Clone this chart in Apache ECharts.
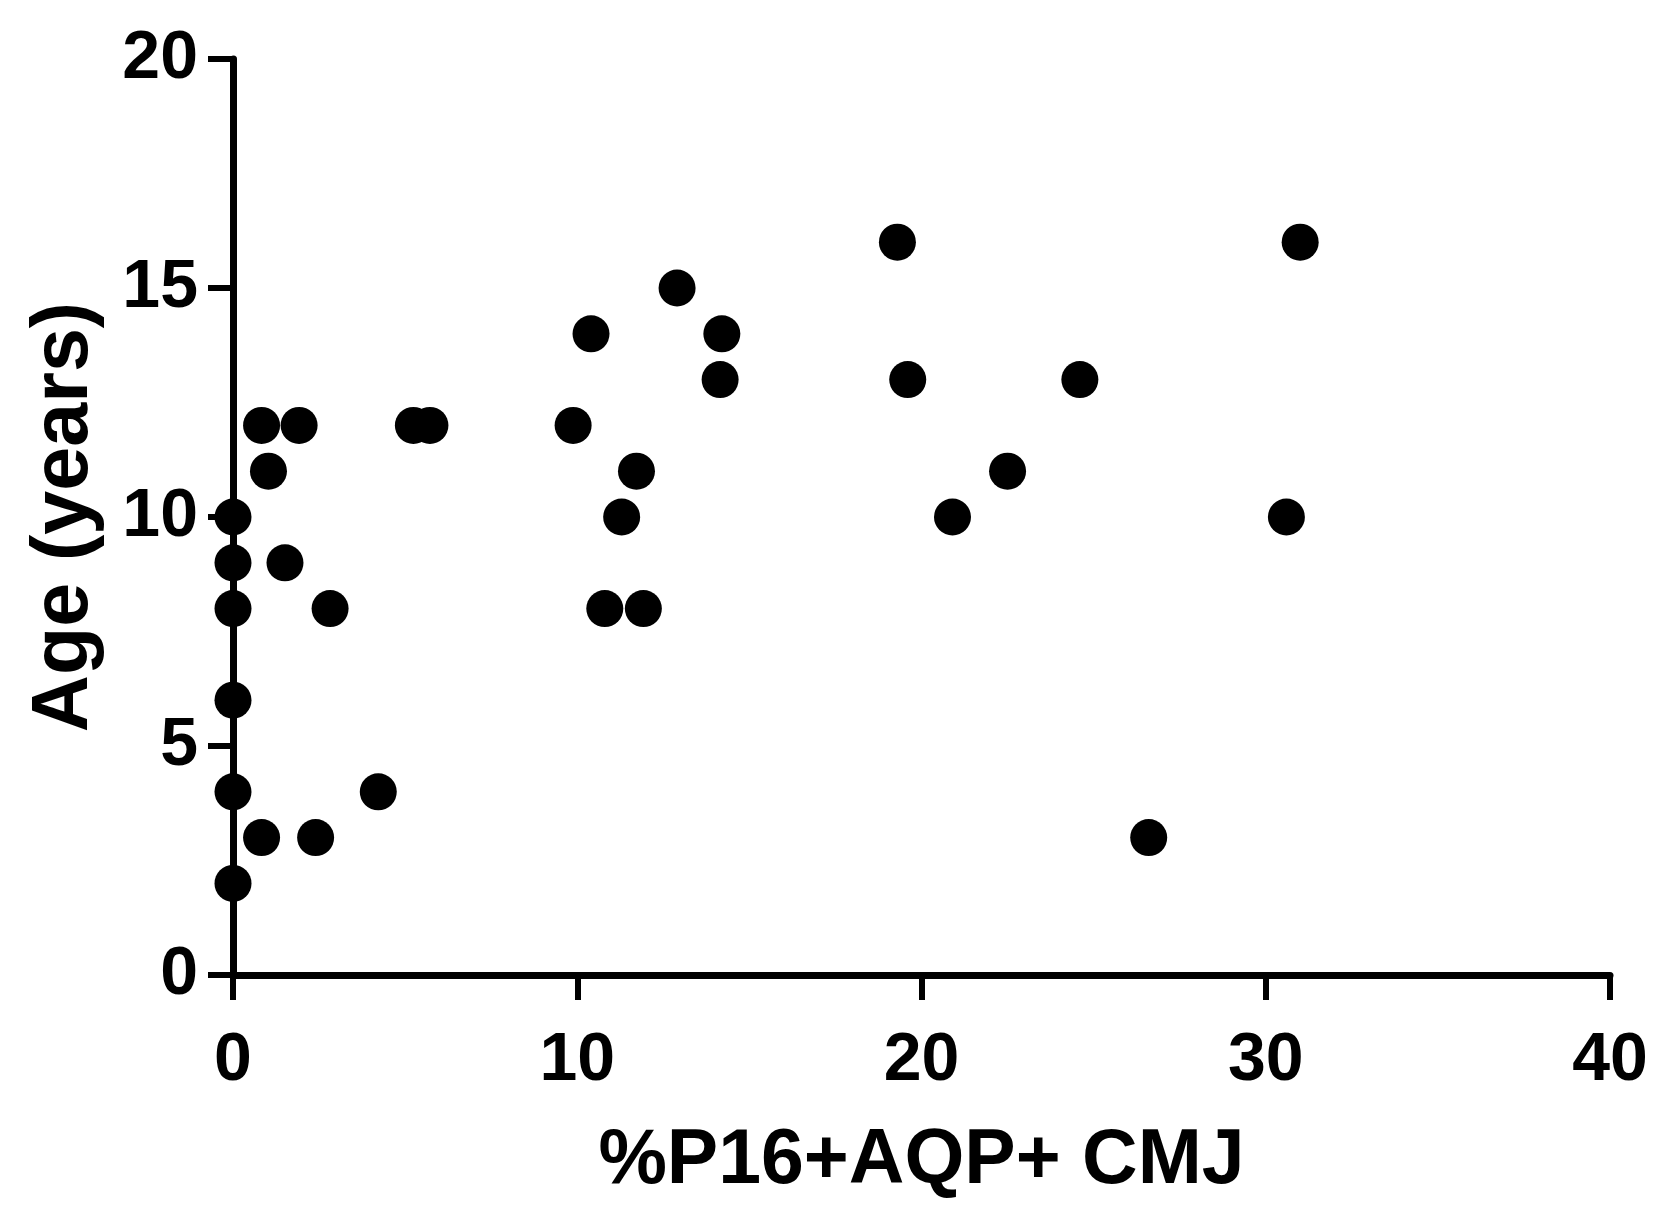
<!DOCTYPE html>
<html>
<head>
<meta charset="utf-8">
<script src="https://cdn.jsdelivr.net/npm/echarts@6/dist/echarts.min.js"></script>
<style>
html,body{margin:0;padding:0;background:#fff;}
#chart{width:1675px;height:1214px;}
</style>
</head>
<body>
<div id="chart"></div>
<script>
// Data
var xValues = [0, 0, 0, 0, 0, 0, 0.83, 2.4, 4.22, 1.51, 2.82, 1.03, 0.83, 1.92, 5.24, 5.72, 9.88, 10.4, 11.72, 11.29, 10.8, 11.92, 12.9, 14.2, 14.15, 19.3, 19.6, 20.9, 22.5, 24.6, 26.6, 30.6, 31.0];
var yValues = [2, 4, 6, 8, 9, 10, 3, 3, 4, 9, 8, 11, 12, 12, 12, 12, 12, 14, 11, 10, 8, 8, 15, 14, 13, 16, 13, 10, 11, 13, 3, 10, 16];
var xTitle = '%P16+AQP+ CMJ';
var yTitle = 'Age (years)';

var points = xValues.map(function (x, i) { return [x, yValues[i]]; });

var font = '"Liberation Sans", Arial, Helvetica, sans-serif';
var chart = echarts.init(document.getElementById('chart'));
chart.setOption({
  animation: false,
  backgroundColor: '#ffffff',
  grid: { left: 233, right: 65, top: 59, bottom: 239 },
  xAxis: {
    type: 'value', min: 0, max: 40, interval: 10,
    name: xTitle, nameLocation: 'middle', nameGap: 148,
    nameTextStyle: { color: '#000', fontFamily: font, fontWeight: 'bold', fontSize: 77 },
    axisLine: { show: true, onZero: false, lineStyle: { color: '#000', width: 7 } },
    axisTick: { show: true, length: 25, lineStyle: { color: '#000', width: 6 } },
    axisLabel: { color: '#000', fontFamily: font, fontWeight: 'bold', fontSize: 68, margin: 52 },
    splitLine: { show: false }
  },
  yAxis: {
    type: 'value', min: 0, max: 20, interval: 5,
    name: yTitle, nameLocation: 'middle', nameGap: 128, nameRotate: 90,
    nameTextStyle: { color: '#000', fontFamily: font, fontWeight: 'bold', fontSize: 79 },
    axisLine: { show: true, onZero: false, lineStyle: { color: '#000', width: 7 } },
    axisTick: { show: true, length: 25, lineStyle: { color: '#000', width: 6 } },
    axisLabel: { color: '#000', fontFamily: font, fontWeight: 'bold', fontSize: 68, margin: 35 },
    splitLine: { show: false }
  },
  series: [{
    type: 'scatter',
    data: points,
    symbol: 'circle',
    symbolSize: 37,
    itemStyle: { color: '#000', opacity: 1 },
    clip: false
  }]
});
</script>
</body>
</html>
